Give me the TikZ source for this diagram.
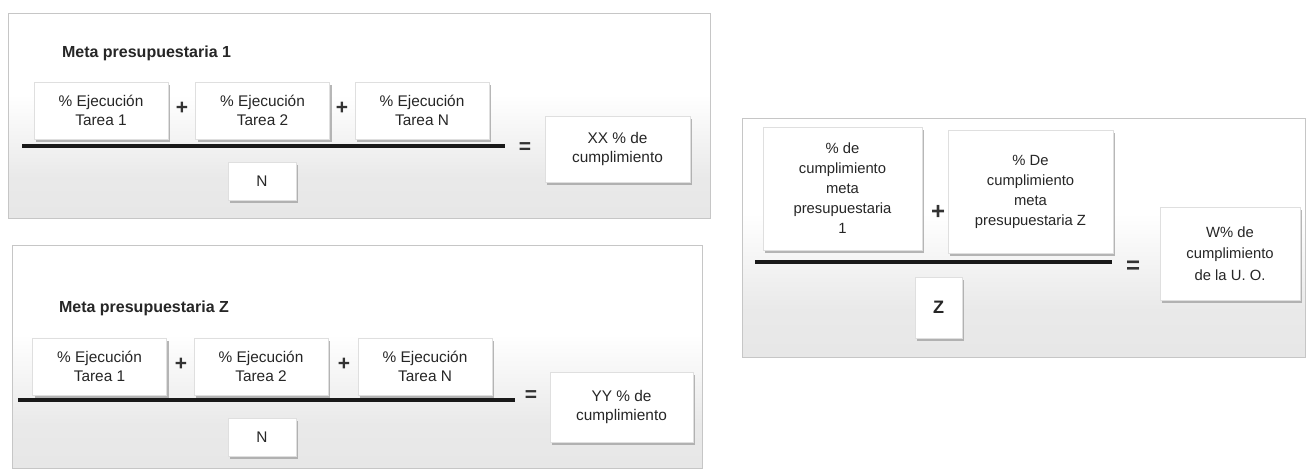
\documentclass[tikz,border=0pt]{standalone}
\usepackage{fontspec}
\setmainfont{Liberation Sans}
\usetikzlibrary{shadows}
\pgfdeclareverticalshading{panelfondo}{100bp}{color(0bp)=(gray!24); color(35bp)=(gray!17); color(55bp)=(white); color(100bp)=(white)}

\begin{document}
\begin{tikzpicture}[x=0.5pt,y=-0.5pt,
  panel/.style={draw=gray!45,line width=0.4pt,shade,shading=panelfondo,
    drop shadow={shadow xshift=0.7pt,shadow yshift=-0.7pt,fill=gray!70,opacity=0.6}},
  caja/.style={draw=gray!25,fill=white,line width=0.3pt,align=center,inner sep=1pt,
    text=black!85,font=\fontsize{7.7}{9.6}\selectfont,
    drop shadow={shadow xshift=1pt,shadow yshift=-1.5pt,fill=gray!75,opacity=0.75}},
  tarea/.style={caja,minimum width=67pt,minimum height=28.5pt},
  titulo/.style={anchor=west,font=\bfseries\fontsize{8}{10}\selectfont,text=black!85},
  signo/.style={font=\bfseries\fontsize{10.5}{11}\selectfont,text=black!80},
  fraccion/.style={line width=1.6pt,black!90}]
\useasboundingbox (0,0) rectangle (1309,473);

% fondos
\draw[panel] (8,13) rectangle (710,218);
\draw[panel] (12,245) rectangle (702,468);
\draw[panel] (742,118) rectangle (1305,357);

% meta 1
\node[titulo] (m1) at (55,53) {Meta presupuestaria 1};
\node[tarea] (t11) at (101,110.5) {\% Ejecución\\Tarea 1};
\node[signo] (p11) at (182,108) {+};
\node[tarea] (t12) at (262.5,110.5) {\% Ejecución\\Tarea 2};
\node[signo] (p12) at (342,108) {+};
\node[tarea] (t1n) at (422,110.5) {\% Ejecución\\Tarea N};
\coordinate (fa1) at (22,146);
\coordinate (fb1) at (505,146);
\draw[fraccion] (fa1) -- (fb1);
\node[caja,minimum width=34pt,minimum height=19pt] (n1) at (262,181) {N};
\node[signo] (e1) at (525,148) {=};
\node[caja,minimum width=72.5pt,minimum height=33pt] (r1) at (617.5,149) {XX \% de\\cumplimiento};

% meta Z
\node[titulo] (mz) at (52,308) {Meta presupuestaria Z};
\node[tarea] (tz1) at (99.5,366.5) {\% Ejecución\\Tarea 1};
\node[signo] (pz1) at (181,364) {+};
\node[tarea] (tz2) at (261,366.5) {\% Ejecución\\Tarea 2};
\node[signo] (pz2) at (344,364) {+};
\node[tarea] (tzn) at (425,366.5) {\% Ejecución\\Tarea N};
\coordinate (faz) at (18,400);
\coordinate (fbz) at (515,400);
\draw[fraccion] (faz) -- (fbz);
\node[caja,minimum width=34pt,minimum height=19pt] (nz) at (262,437) {N};
\node[signo] (ez) at (531,396) {=};
\node[caja,minimum width=71.5pt,minimum height=35pt] (rz) at (621.5,407) {YY \% de\\cumplimiento};

% unidad
\node[caja,minimum width=79.5pt,minimum height=61.5pt,font=\fontsize{7.4}{10}\selectfont] (u1) at (842.5,188.5)
  {\% de\\cumplimiento\\meta\\presupuestaria\\1};
\node[signo,font=\bfseries\fontsize{12}{12}\selectfont] (pu) at (938,212) {+};
\node[caja,minimum width=82.5pt,minimum height=61.5pt,font=\fontsize{7.4}{10}\selectfont] (u2) at (1030.5,191.5)
  {\% De\\cumplimiento\\meta\\presupuestaria Z};
\coordinate (fau) at (755,262);
\coordinate (fbu) at (1112,262);
\draw[fraccion] (fau) -- (fbu);
\node[caja,minimum width=23.5pt,minimum height=30.5pt,font=\bfseries\fontsize{9}{10}\selectfont] (zu) at (938.5,307.5) {Z};
\node[signo,font=\bfseries\fontsize{12}{12}\selectfont] (eu) at (1133,267) {=};
\node[caja,minimum width=70pt,minimum height=46.5pt,font=\fontsize{7.4}{10.6}\selectfont] (ru) at (1230,253.5)
  {W\% de\\cumplimiento\\de la U. O.};
\end{tikzpicture}
\end{document}
